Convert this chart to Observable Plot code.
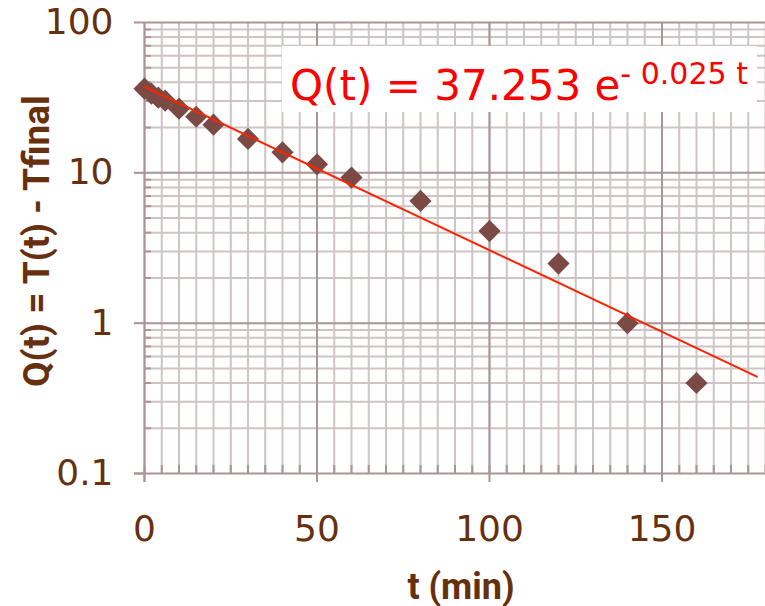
<!DOCTYPE html>
<html><head><meta charset="utf-8">
<script src="https://cdn.jsdelivr.net/npm/d3@7"></script>
<script src="https://cdn.jsdelivr.net/npm/@observablehq/plot@0.6"></script>
<style>
body{margin:0;background:#fff;}
#wrap{position:relative;width:765px;height:606px;overflow:hidden;}
</style></head><body><div id="wrap"></div>
<script>
// Measured data: time (min) and Q(t) = T(t) - Tfinal
const tMin = [0, 2, 4, 6, 10, 15, 20, 30, 40, 50, 60, 80, 100, 120, 140, 160];
const qValues = [36.3, 33.6, 31.6, 30.2, 26.7, 23.6, 20.9, 16.8, 13.7, 11.4, 9.3, 6.5, 4.1, 2.49, 1.0, 0.40];
// Exponential trend shown on chart
const fitA = 37.253;
const fitB = -0.025;
const fitRange = [0, 177.5];
// Ticks
const xMajorTicks = [0, 50, 100, 150];
const xMinorTicks = d3.range(0, 181, 5);
const yMajorTicks = [0.1, 1, 10, 100];
const yMinorTicks = [0.1, 1, 10].flatMap(d => [2,3,4,5,6,7,8,9].map(k => +(d * k).toPrecision(3)));
const yLabel = "Q(t) = T(t) - Tfinal";
const xLabel = "t (min)";

const points = tMin.map((t, i) => ({t, q: qValues[i]}));
const fit = fitRange.map(t => ({t, q: fitA * Math.exp(fitB * t)}));

const minorC = "#cfc4c4", majorC = "#a99595", textC = "#66300f";
const tickFont = "DejaVu Sans";

const chart = Plot.plot({
  width: 765, height: 606,
  marginLeft: 144, marginRight: 0, marginTop: 22, marginBottom: 133,
  style: {background: "#fff", color: textC, overflow: "visible"},
  x: {domain: [0, 180], label: null},
  y: {type: "log", domain: [0.1, 100], label: null},
  marks: [
    Plot.gridX({ticks: xMinorTicks, stroke: minorC, strokeOpacity: 1, strokeWidth: 2}),
    Plot.gridY({ticks: yMinorTicks, stroke: minorC, strokeOpacity: 1, strokeWidth: 2}),
    Plot.gridX({ticks: [50, 100, 150], stroke: majorC, strokeOpacity: 1, strokeWidth: 2}),
    Plot.gridY({ticks: [1, 10, 100], stroke: majorC, strokeOpacity: 1, strokeWidth: 2}),
    Plot.axisY({ticks: yMinorTicks, tickSize: -7, tickFormat: () => "", stroke: majorC, strokeWidth: 2, label: null}),
    Plot.axisX({ticks: xMinorTicks, tickSize: -8, tickFormat: () => "", stroke: majorC, strokeWidth: 2, label: null}),
    Plot.axisY({ticks: yMajorTicks, tickSize: 10, tickPadding: 21, tickFormat: d => String(d),
      stroke: majorC, strokeWidth: 2, fontSize: 36, fontFamily: tickFont, label: null}),
    Plot.axisX({ticks: xMajorTicks, tickSize: 9, tickPadding: 33, tickFormat: d => String(d),
      stroke: majorC, strokeWidth: 2, fontSize: 36, fontFamily: tickFont, label: null}),
    Plot.ruleX([0], {stroke: majorC, strokeWidth: 2, insetBottom: -9}),
    Plot.ruleY([0.1], {stroke: majorC, strokeWidth: 2, insetLeft: -10}),
    Plot.dot(points, {x: "t", y: "q", symbol: "diamond2", r: 10, fill: "#7b4a45", stroke: "none"}),
    Plot.line(fit, {x: "t", y: "q", stroke: "#ff2200", strokeWidth: 2}),
    Plot.text([yLabel], {frameAnchor: "left", textAnchor: "middle", rotate: -90, dx: -107, dy: -7, text: d => d,
      fontSize: 37, fontWeight: "bold", fontFamily: "Roboto", fill: textC}),
    Plot.text([xLabel], {frameAnchor: "bottom", textAnchor: "middle", dx: 6, dy: 125, text: d => d,
      fontSize: 36, fontWeight: "bold", fontFamily: "Roboto", fill: textC})
  ]
});
document.getElementById("wrap").appendChild(chart);

// Equation annotation box
const svg = d3.select(chart);
const g = svg.append("g");
g.append("rect").attr("x", 282).attr("y", 46).attr("width", 475).attr("height", 66).attr("fill", "#fff");
const eq = g.append("text").attr("x", 290).attr("y", 100).attr("fill", "#ff0000").attr("text-anchor", "start")
  .attr("font-family", tickFont).attr("font-size", 42);
eq.append("tspan").text("Q(t) = " + fitA + " e");
eq.append("tspan").attr("font-size", 30).attr("dy", -16).text("- " + (-fitB) + " t");
</script></body></html>
